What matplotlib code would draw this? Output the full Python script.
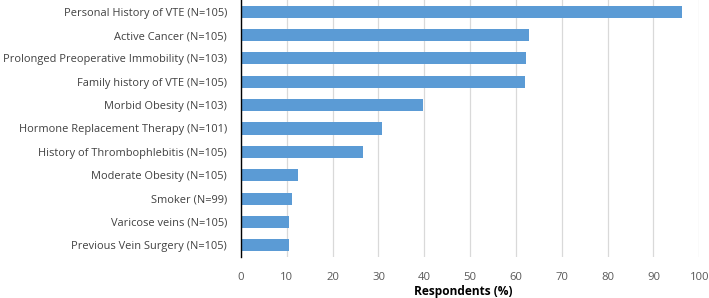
import numpy as np
import matplotlib
matplotlib.use('Agg')
import matplotlib.pyplot as plt

plt.rcParams['font.family'] = ['Open Sans', 'DejaVu Sans']

categories = [
    'Personal History of VTE (N=105)',
    'Active Cancer (N=105)',
    'Prolonged Preoperative Immobility (N=103)',
    'Family history of VTE (N=105)',
    'Morbid Obesity (N=103)',
    'Hormone Replacement Therapy (N=101)',
    'History of Thrombophlebitis (N=105)',
    'Moderate Obesity (N=105)',
    'Smoker (N=99)',
    'Varicose veins (N=105)',
    'Previous Vein Surgery (N=105)',
]
values = [96.2, 62.9, 62.1, 61.9, 39.8, 30.7, 26.6, 12.4, 11.1, 10.5, 10.5]
xticks = list(range(0, 101, 10))

fig = plt.figure(figsize=(7.09, 2.98), dpi=100)
ax = fig.add_axes([0.3399, 0.1376, 0.6464, 0.8624])

y = np.arange(len(categories))
ax.barh(y, values, height=0.52, color='#5b9bd5', zorder=3)
ax.set_ylim(len(categories) - 0.5, -0.5)
ax.set_xlim(0, 100)
ax.set_yticks(y)
ax.set_yticklabels(categories, fontsize=7.9, color='#404040')
ax.set_xticks(xticks)
ax.set_xticklabels([str(t) for t in xticks], fontsize=8.1, color='#595959')
ax.tick_params(axis='y', length=0, pad=10)
ax.tick_params(axis='x', length=0, pad=11)
ax.grid(axis='x', color='#d9d9d9', linewidth=0.9, zorder=0)
for s in ['top', 'right', 'bottom']:
    ax.spines[s].set_visible(False)
ax.spines['left'].set_color('#000000')
ax.spines['left'].set_linewidth(1.0)
ax.spines['left'].set_zorder(4)
ax.set_xlabel('Respondents (%)', fontsize=8.6, fontweight='bold', color='#000000')
ax.xaxis.set_label_coords(0.486, -0.11)

fig.savefig('out.png', dpi=100)
